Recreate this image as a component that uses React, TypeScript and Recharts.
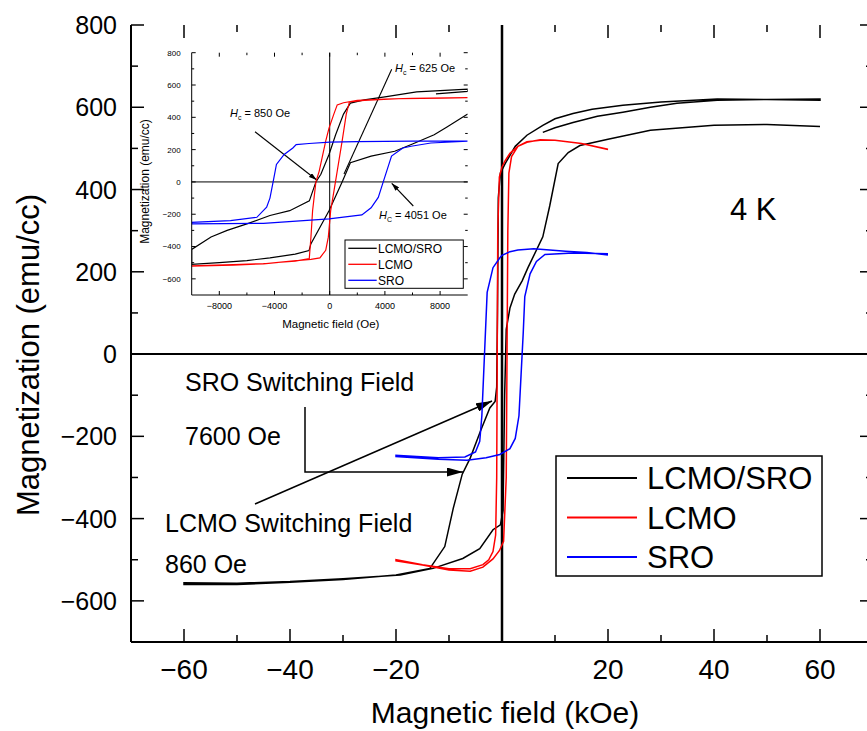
import { LineChart, Line, XAxis, YAxis, ReferenceLine } from 'recharts'

const FONT = '"Liberation Sans", Arial, Helvetica, sans-serif'

// main loops, field in kOe, magnetization in emu/cc
const lcmoSroMain = [
  [7.7, 539], [10, 550], [13.4, 563], [18, 578], [22.8, 588], [28, 600], [33, 610], [40.6, 617], [50, 619], [60, 620],
  [60, 617], [50, 619], [40.6, 620], [30, 613], [22.8, 605], [17, 595], [13.4, 585], [10, 572], [7.7, 556], [4.7, 532],
  [2.5, 505], [1.5, 483], [0.6, 463], [-0.3, 440], [-0.7, 380], [-0.85, 100], [-1.0, -80], [-1.3, -115], [-2.3, -131],
  [-4, -185], [-6, -253], [-7.5, -292], [-9.2, -375], [-10.8, -468], [-13.6, -521], [-20, -537], [-30, -548],
  [-40, -555], [-50, -560], [-60, -560],
  [-60, -556], [-50, -557], [-40, -553], [-30, -546], [-19.2, -537], [-13, -521], [-7.4, -497], [-4.2, -473],
  [-1.7, -427], [-0.3, -415], [0.2, -380], [0.5, -100], [0.8, 60], [1.5, 112], [2.4, 146], [3.8, 178], [4.9, 210],
  [7.7, 285], [9, 360], [10.6, 463], [12.5, 490], [14.7, 507], [20, 522], [28, 544], [40, 556], [50, 558], [60, 553],
]
const lcmoMain = [
  [20, 498], [15, 512], [10, 520], [7.2, 521], [4.7, 515], [3, 505], [1.5, 488], [0.6, 470], [0, 455], [-0.5, 430],
  [-0.8, 300], [-0.9, 0], [-1.0, -300], [-1.2, -440], [-1.7, -480], [-2.5, -500], [-3.6, -512], [-6, -522],
  [-10, -522], [-15, -512], [-20, -500],
  [-20, -503], [-15, -513], [-10, -525], [-6, -528], [-3.6, -518], [-1.7, -498], [-0.5, -478], [0.3, -455],
  [0.8, -300], [0.95, 0], [1.1, 300], [1.3, 440], [1.8, 480], [3, 505], [4.7, 516], [7.2, 520], [10, 520],
  [15, 512], [20, 497],
]
const sroMain = [
  [20, 241], [16, 247], [12, 250], [6, 256], [3, 253], [1.5, 249], [0, 240], [-0.4, 234], [-1.7, 210], [-2.8, 150],
  [-3.3, 0], [-3.8, -150], [-4.2, -212], [-5, -238], [-7, -250], [-12, -252], [-20, -246],
  [-20, -249], [-12, -256], [-6.6, -258], [-3, -252], [-0.4, -244], [1.5, -230], [2.5, -205], [3.2, -150],
  [3.6, -50], [4, 50], [4.3, 140], [5.3, 195], [6.5, 225], [8.1, 242], [13.4, 246], [20, 244],
]

// inset loops, field in Oe
const lcmoSroInset = [
  [7700, 545], [10000, 560],
  [10000, 575], [8000, 565], [6300, 557], [4000, 527], [2500, 508], [1500, 488], [1000, 420], [430, 292],
  [-50, 170], [-640, 47], [-1000, 0], [-1475, -117], [-2900, -178], [-4330, -208], [-6000, -260], [-7430, -300],
  [-8600, -341], [-10000, -418],
  [-10000, -510], [-8000, -500], [-6000, -487], [-4330, -470], [-2500, -447], [-1500, -425], [-1357, -382],
  [-50, -178], [900, 0], [1500, 119], [3000, 160], [4710, 190], [6000, 235], [7570, 292], [8500, 340], [10000, 420],
]
const lcmoInset = [
  [10000, 522], [6000, 518], [4000, 513], [2000, 505], [1000, 490], [545, 477], [300, 420], [-50, 333],
  [-290, 252], [-760, 67], [-1000, 0], [-1240, -178], [-1360, -342], [-1480, -474], [-2500, -490], [-4800, -505],
  [-7000, -512], [-10000, -520],
  [-10000, -522], [-7000, -515], [-4800, -507], [-2430, -487], [-1360, -480], [-710, -470], [-290, -423],
  [-100, -342], [70, -178], [310, -55], [545, 67], [900, 252], [1200, 420], [1430, 495], [2500, 505], [5000, 515],
  [10000, 520],
]
const sroInset = [
  [10000, 252], [6000, 252], [2000, 250], [0, 246], [-1500, 238], [-2430, 231], [-2670, 210], [-3300, 170],
  [-3860, 108], [-4100, 0], [-4330, -100], [-4570, -157], [-5280, -219], [-7190, -239], [-10000, -250],
  [-10000, -260], [-4800, -256], [-50, -229], [2330, -204], [3000, -160], [3520, -96], [3880, 0], [4480, 160],
  [5300, 210], [5900, 221], [7330, 241], [10000, 252],
]

const seriesNames = ['LCMO/SRO', 'LCMO', 'SRO']
const seriesColors = ['#000000', '#ff0000', '#0000ff']

const mainXTicks = [-60, -50, -40, -30, -20, -10, 0, 10, 20, 30, 40, 50, 60]
const mainYTicks = [-600, -500, -400, -300, -200, -100, 0, 100, 200, 300, 400, 500, 600, 700, 800]
const insetXTicks = [-8000, -6000, -4000, -2000, 0, 2000, 4000, 6000, 8000]
const insetYTicks = [-600, -500, -400, -300, -200, -100, 0, 100, 200, 300, 400, 500, 600, 700, 800]

const toPts = (a: number[][]) => a.map(([x, y]) => ({ x, y }))
const fmt = (v: number) => (v < 0 ? '\u2212' + Math.abs(v) : String(v))
const isMajor = (v: number, step: number) => Math.abs(v % step) < 1e-6

// tick labels only; tick marks are drawn as reference segments
const xLabel = (step: number, fs: number, off: number, skipZero: boolean) => (p: any) => {
  const v = p.payload.value
  if (!isMajor(v, step) || (skipZero && v === 0)) return <g />
  return (
    <text x={p.x} y={p.y + off} textAnchor="middle" fontSize={fs} fontFamily={FONT} fill="#000">
      {fmt(v)}
    </text>
  )
}
const yLabel = (step: number, fs: number, off: number) => (p: any) => {
  const v = p.payload.value
  if (!isMajor(v, step)) return <g />
  return (
    <text x={p.x - off} y={p.y} dy="0.36em" textAnchor="end" fontSize={fs} fontFamily={FONT} fill="#000">
      {fmt(v)}
    </text>
  )
}

// inward tick marks on all four sides, lengths given in pixels and turned into data units
type Box = { x0: number; x1: number; y0: number; y1: number; pxX: number; pxY: number }
const innerTicks = (b: Box, xt: number[], yt: number[], xs: number, ys: number, maj: number, min: number, w: number, key: string) => {
  const out: any[] = []
  xt.forEach((v) => {
    const d = (isMajor(v, xs) ? maj : min) * b.pxY
    out.push(
      <ReferenceLine key={`${key}b${v}`} xAxisId="b" yAxisId="l" ifOverflow="visible" stroke="#000" strokeWidth={w}
        segment={[{ x: v, y: b.y0 }, { x: v, y: b.y0 + d }]} />,
      <ReferenceLine key={`${key}t${v}`} xAxisId="b" yAxisId="l" ifOverflow="visible" stroke="#000" strokeWidth={w}
        segment={[{ x: v, y: b.y1 }, { x: v, y: b.y1 - d }]} />,
    )
  })
  yt.forEach((v) => {
    const d = (isMajor(v, ys) ? maj : min) * b.pxX
    out.push(
      <ReferenceLine key={`${key}l${v}`} xAxisId="b" yAxisId="l" ifOverflow="visible" stroke="#000" strokeWidth={w}
        segment={[{ x: b.x0, y: v }, { x: b.x0 + d, y: v }]} />,
      <ReferenceLine key={`${key}r${v}`} xAxisId="b" yAxisId="l" ifOverflow="visible" stroke="#000" strokeWidth={w}
        segment={[{ x: b.x1, y: v }, { x: b.x1 - d, y: v }]} />,
    )
  })
  return out
}

const mainBox: Box = { x0: -70, x1: 70, y0: -700, y1: 800, pxX: 140 / 742, pxY: 1500 / 617 }
const insetBox: Box = { x0: -10000, x1: 10000, y0: -700, y1: 800, pxX: 20000 / 276, pxY: 1500 / 242.3 }

function Inset() {
  const series = [lcmoSroInset, lcmoInset, sroInset]
  return (
    <LineChart width={345} height={300} margin={{ top: 12.7, right: 7.3, left: 0, bottom: 0 }}>
      <XAxis xAxisId="b" type="number" dataKey="x" domain={[-10000, 10000]} allowDataOverflow ticks={insetXTicks}
        interval={0} tickSize={0} tickMargin={0} height={45} axisLine={{ stroke: '#000', strokeWidth: 1 }}
        tickLine={false} tick={xLabel(4000, 9, 13.5, false)} />
      <XAxis xAxisId="t" orientation="top" type="number" domain={[-10000, 10000]} height={0} tick={false}
        tickLine={false} axisLine={{ stroke: '#000', strokeWidth: 1 }} />
      <YAxis yAxisId="l" type="number" domain={[-700, 800]} allowDataOverflow ticks={insetYTicks} interval={0}
        tickSize={0} tickMargin={0} width={61.7} axisLine={{ stroke: '#000', strokeWidth: 1 }} tickLine={false}
        tick={yLabel(200, 8, 11)} />
      <YAxis yAxisId="r" orientation="right" type="number" domain={[-700, 800]} width={0} tick={false}
        tickLine={false} axisLine={{ stroke: '#000', strokeWidth: 1 }} />
      {innerTicks(insetBox, insetXTicks, insetYTicks, 4000, 200, 4, 2.5, 1, 'i')}
      <ReferenceLine xAxisId="b" yAxisId="l" x={0} stroke="#000" strokeWidth={1} />
      <ReferenceLine xAxisId="b" yAxisId="l" y={0} stroke="#000" strokeWidth={1} />
      {series.map((d, i) => (
        <Line key={seriesNames[i]} xAxisId="b" yAxisId="l" data={toPts(d)} dataKey="y" type="linear"
          stroke={seriesColors[i]} strokeWidth={1.2} dot={false} isAnimationActive={false} />
      ))}
      <defs>
        <marker id="ahs" viewBox="0 0 8 5" refX="8" refY="2.5" markerWidth="8" markerHeight="5"
          markerUnits="userSpaceOnUse" orient="auto">
          <path d="M0,0 L8,2.5 L0,5 z" fill="#000" />
        </marker>
      </defs>
      <g fontFamily={FONT} fill="#000">
        <text x={15} y={141.5} transform="rotate(-90 15 141.5)" textAnchor="middle" dominantBaseline="central" fontSize={12}>
          Magnetization (emu/cc)
        </text>
        <text x={200.8} y={288} textAnchor="middle" fontSize={11.5}>Magnetic field (Oe)</text>
        <text x={265} y={31.5} fontSize={11}>
          <tspan fontStyle="italic">H</tspan><tspan fontSize={7} dy={3}>c</tspan><tspan dy={-3}> = 625 Oe</tspan>
        </text>
        <text x={100} y={77} fontSize={11}>
          <tspan fontStyle="italic">H</tspan><tspan fontSize={7} dy={3}>c</tspan><tspan dy={-3}> = 850 Oe</tspan>
        </text>
        <text x={249} y={179} fontSize={11}>
          <tspan fontStyle="italic">H</tspan><tspan fontSize={7} dy={3}>C</tspan><tspan dy={-3}> = 4051 Oe</tspan>
        </text>
      </g>
      <line x1={261.7} y1={29.3} x2={214} y2={134} stroke="#000" strokeWidth={1.1} />
      <line x1={125} y1={91.7} x2={186.7} y2={140} stroke="#000" strokeWidth={1.1} markerEnd="url(#ahs)" />
      <line x1={283.3} y1={166} x2={261.7} y2={143.3} stroke="#000" strokeWidth={1.1} markerEnd="url(#ahs)" />
      <rect x={215} y={200} width={118.3} height={48.3} fill="#fff" stroke="#000" strokeWidth={1} />
      {seriesNames.map((n, i) => (
        <g key={n}>
          <line x1={218.3} x2={246.7} y1={208.3 + i * 16} y2={208.3 + i * 16} stroke={seriesColors[i]} strokeWidth={1.3} />
          <text x={248} y={208.3 + i * 16} dy="0.36em" fontSize={12} fontFamily={FONT} fill="#000">{n}</text>
        </g>
      ))}
    </LineChart>
  )
}

export default function App() {
  const series = [lcmoSroMain, lcmoMain, sroMain]
  return (
    <div style={{ position: 'absolute', left: 0, top: 0, width: 867, height: 731, overflow: 'hidden', background: '#fff' }}>
      <div style={{ position: 'relative', width: 880, height: 731 }}>
        <LineChart width={880} height={731} margin={{ top: 25, right: 7, left: 0, bottom: 0 }}>
          <XAxis xAxisId="b" type="number" dataKey="x" domain={[-70, 70]} allowDataOverflow ticks={mainXTicks}
            interval={0} tickSize={0} tickMargin={0} height={89} axisLine={{ stroke: '#000', strokeWidth: 2 }}
            tickLine={false} tick={xLabel(20, 28, 37, true)} />
          <XAxis xAxisId="t" orientation="top" type="number" domain={[-70, 70]} height={0} tick={false}
            tickLine={false} axisLine={{ stroke: '#000', strokeWidth: 2 }} />
          <YAxis yAxisId="l" type="number" domain={[-700, 800]} allowDataOverflow ticks={mainYTicks} interval={0}
            tickSize={0} tickMargin={0} width={131} axisLine={{ stroke: '#000', strokeWidth: 2 }} tickLine={false}
            tick={yLabel(200, 25, 14)} />
          <YAxis yAxisId="r" orientation="right" type="number" domain={[-700, 800]} width={0} tick={false}
            tickLine={false} axisLine={{ stroke: '#000', strokeWidth: 2 }} />
          {innerTicks(mainBox, mainXTicks, mainYTicks, 20, 200, 13, 7, 1.5, 'm')}
          <ReferenceLine xAxisId="b" yAxisId="l" x={0} stroke="#000" strokeWidth={2.5} />
          <ReferenceLine xAxisId="b" yAxisId="l" y={0} stroke="#000" strokeWidth={2} />
          {series.map((d, i) => (
            <Line key={seriesNames[i]} xAxisId="b" yAxisId="l" data={toPts(d)} dataKey="y" type="linear"
              stroke={seriesColors[i]} strokeWidth={1.5} dot={false} isAnimationActive={false} />
          ))}
          <defs>
            <marker id="ah" viewBox="0 0 16 9" refX="16" refY="4.5" markerWidth="16" markerHeight="9"
              markerUnits="userSpaceOnUse" orient="auto">
              <path d="M0,0 L16,4.5 L0,9 z" fill="#000" />
            </marker>
          </defs>
          <g fontFamily={FONT} fill="#000">
            <text x={28} y={355} transform="rotate(-90 28 355)" textAnchor="middle" dominantBaseline="central" fontSize={31}>
              Magnetization (emu/cc)
            </text>
            <text x={505} y={723} textAnchor="middle" fontSize={30}>Magnetic field (kOe)</text>
            <text x={730} y={220} fontSize={31}>4 K</text>
            <text x={185} y={391} fontSize={25}>SRO Switching Field</text>
            <text x={185} y={445} fontSize={25}>7600 Oe</text>
            <text x={165} y={532} fontSize={25}>LCMO Switching Field</text>
            <text x={165} y={573} fontSize={25}>860 Oe</text>
          </g>
          <line x1={255} y1={504} x2={492} y2={401} stroke="#000" strokeWidth={1.5} markerEnd="url(#ah)" />
          <polyline points="305,407 305,472 463,472" fill="none" stroke="#000" strokeWidth={1.5} markerEnd="url(#ah)" />
          <rect x={556} y={456} width={266} height={120} fill="#fff" stroke="#000" strokeWidth={1.5} />
          {seriesNames.map((n, i) => (
            <g key={n}>
              <line x1={567} x2={637} y1={478 + i * 39.5} y2={478 + i * 39.5} stroke={seriesColors[i]} strokeWidth={2} />
              <text x={647} y={478 + i * 39.5} dy="0.36em" fontSize={31} fontFamily={FONT} fill="#000">{n}</text>
            </g>
          ))}
        </LineChart>
        <div style={{ position: 'absolute', left: 130, top: 40, width: 345, height: 300 }}>
          <Inset />
        </div>
      </div>
    </div>
  )
}
